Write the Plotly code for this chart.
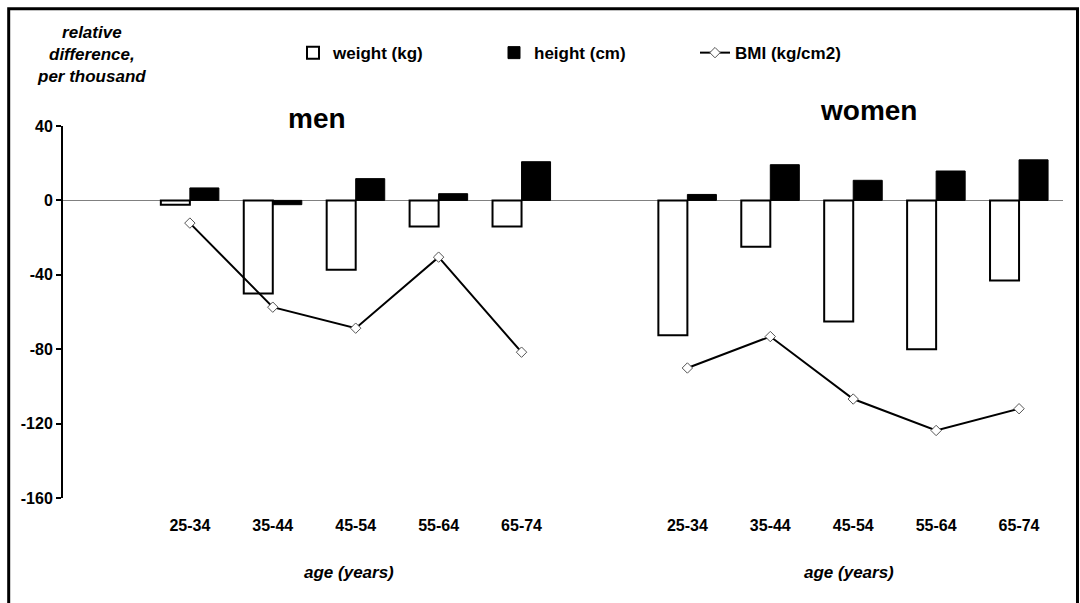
import plotly.graph_objects as go

age_groups = ["25-34", "35-44", "45-54", "55-64", "65-74"]
men_weight = [-2.3, -50.0, -37.3, -14.0, -14.0]
men_height = [6.7, -2.3, 11.7, 3.6, 20.8]
men_bmi = [-12.2, -57.4, -68.7, -30.5, -81.6]
women_weight = [-72.5, -24.9, -65.1, -80.0, -43.1]
women_height = [3.2, 19.2, 10.8, 15.8, 21.8]
women_bmi = [-90.1, -73.2, -106.8, -123.7, -112.0]
y_ticks = [-160, -120, -80, -40, 0, 40]

# category positions: men group, one empty slot, women group
n = len(age_groups)
men_x = list(range(n))
women_x = [i + n + 1 for i in range(n)]
all_x = men_x + women_x
tick_text = age_groups + age_groups

FONT = "Liberation Sans, Arial, sans-serif"

fig = go.Figure()
fig.add_trace(go.Bar(
    x=all_x, y=men_weight + women_weight, name="weight (kg)",
    marker=dict(color="white", line=dict(color="black", width=2)),
))
fig.add_trace(go.Bar(
    x=all_x, y=men_height + women_height, name="height (cm)",
    marker=dict(color="black", line=dict(color="black", width=1)),
))
fig.add_trace(go.Scatter(
    x=men_x + [None] + women_x, y=men_bmi + [None] + women_bmi,
    name="BMI (kg/cm2)", mode="lines+markers", connectgaps=False,
    line=dict(color="black", width=2),
    marker=dict(symbol="diamond", size=8, color="white",
                line=dict(color="#555555", width=1)),
))

fig.update_layout(
    width=1080, height=603,
    margin=dict(l=63, r=17, t=126, b=105),
    paper_bgcolor="white", plot_bgcolor="white",
    barmode="group", bargap=0.3, bargroupgap=0,
    font=dict(family=FONT, color="black"),
    showlegend=True,
    legend=dict(
        orientation="h", x=0.23, xanchor="left", y=1.196, yanchor="middle",
        font=dict(size=17, family=FONT, weight="bold"),
        entrywidth=156, entrywidthmode="pixels",
        bgcolor="rgba(0,0,0,0)", borderwidth=0,
    ),
    xaxis=dict(
        range=[-1.53, 10.53], tickmode="array", tickvals=all_x, ticktext=tick_text,
        showline=False, showgrid=False, zeroline=False, ticks="",
        ticklabelstandoff=16,
        tickfont=dict(size=16, family=FONT, weight="bold"),
    ),
    yaxis=dict(
        range=[-160, 40], tickmode="array", tickvals=y_ticks,
        ticktext=[str(v) for v in y_ticks],
        showline=True, linecolor="black", linewidth=2,
        ticks="outside", ticklen=5, tickwidth=2, tickcolor="black",
        showgrid=False, zeroline=True, zerolinecolor="#808080", zerolinewidth=1,
        tickfont=dict(size=16, family=FONT, weight="bold"),
    ),
)

annotations = [
    dict(text="relative<br>difference,<br>per thousand", x=0.028, y=1.1935,
         xref="paper", yref="paper", xanchor="center", yanchor="middle",
         showarrow=False, font=dict(size=17, family=FONT, weight="bold", style="italic")),
    dict(text="men", x=0.254, y=1.02, xref="paper", yref="paper",
         xanchor="center", yanchor="middle", showarrow=False,
         font=dict(size=28, family=FONT, weight="bold")),
    dict(text="women", x=0.805, y=1.043, xref="paper", yref="paper",
         xanchor="center", yanchor="middle", showarrow=False,
         font=dict(size=28, family=FONT, weight="bold")),
    dict(text="age (years)", x=0.286, y=-0.2016, xref="paper", yref="paper",
         xanchor="center", yanchor="middle", showarrow=False,
         font=dict(size=17, family=FONT, weight="bold", style="italic")),
    dict(text="age (years)", x=0.786, y=-0.2016, xref="paper", yref="paper",
         xanchor="center", yanchor="middle", showarrow=False,
         font=dict(size=17, family=FONT, weight="bold", style="italic")),
]
fig.update_layout(annotations=annotations)

# outer frame around the whole chart
fig.add_shape(type="rect", xref="paper", yref="paper",
              x0=(8.7 - 63) / 1000, x1=(1077.5 - 63) / 1000,
              y0=(498 - 620) / 372, y1=(498 - 8.7) / 372,
              line=dict(color="black", width=3), fillcolor="rgba(0,0,0,0)", layer="above")

fig.write_html(
    "out.html",
    config={"displayModeBar": False},
    post_script="document.body.style.margin='0px';document.body.style.overflow='hidden';",
)
